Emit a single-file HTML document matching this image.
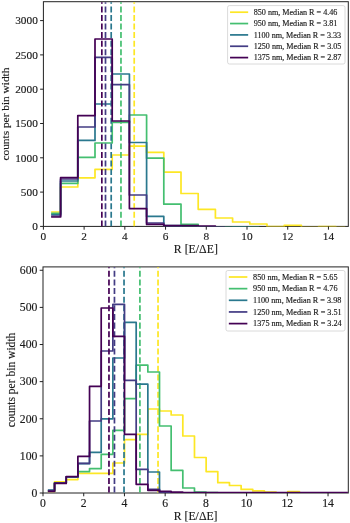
<!DOCTYPE html>
<html lang="en">
<head>
<meta charset="utf-8">
<title>R histograms</title>
<style>
html,body{margin:0;padding:0;background:#fff;}
body{width:350px;height:523px;overflow:hidden;}
svg{display:block;font-family:"Liberation Serif","DejaVu Serif",serif;}
text{stroke:#1a1a1a;stroke-width:0.15px;}
</style>
</head>
<body>
<svg width="350" height="523" viewBox="0 0 350 523">
<rect x="0" y="0" width="350" height="523" fill="#fff"/>
<g>
<clipPath id="c1"><rect x="43.85" y="2.15" width="304.00" height="224.25"/></clipPath>
<rect x="43.40" y="1.70" width="304.90" height="224.70" fill="none" stroke="#222" stroke-width="1"/>
<g clip-path="url(#c1)" fill="none" stroke-width="1.72">
<path d="M52.00 212.00 L60.60 212.00 L60.60 187.00 L77.80 187.00 L77.80 177.80 L95.00 177.80 L95.00 169.40 L112.20 169.40 L112.20 155.00 L129.40 155.00 L129.40 146.20 L146.60 146.20 L146.60 152.40 L163.80 152.40 L163.80 172.20 L181.00 172.20 L181.00 193.50 L198.20 193.50 L198.20 209.30 L215.40 209.30 L215.40 218.00 L232.60 218.00 L232.60 222.00 L249.80 222.00 L249.80 224.00 L267.00 224.00 L267.00 226.60 L284.20 226.60 L284.20 225.40 L301.40 225.40 L301.40 227.30 L318.60 227.30 L318.60 226.60 L335.80 226.60 L335.80 227.30 L344.40 227.30" stroke="#fde725" stroke-linejoin="round" stroke-linecap="square"/>
<path d="M134.21 226.40 V1.70" stroke="#fde725" stroke-dasharray="5.98 2.58"/>
<path d="M52.00 213.40 L60.60 213.40 L60.60 183.40 L77.80 183.40 L77.80 157.40 L95.00 157.40 L95.00 143.00 L112.20 143.00 L112.20 122.40 L129.40 122.40 L129.40 115.00 L146.60 115.00 L146.60 158.20 L163.80 158.20 L163.80 204.20 L181.00 204.20 L181.00 224.30 L198.20 224.30 L198.20 227.30 L215.40 227.30 L215.40 227.40 L232.60 227.40 L232.60 227.40 L249.80 227.40 L249.80 227.40 L258.40 227.40" stroke="#44bf70" stroke-linejoin="round" stroke-linecap="square"/>
<path d="M120.97 226.40 V1.70" stroke="#44bf70" stroke-dasharray="5.98 2.58"/>
<path d="M52.00 214.50 L60.60 214.50 L60.60 181.00 L77.80 181.00 L77.80 140.40 L95.00 140.40 L95.00 104.00 L112.20 104.00 L112.20 74.00 L129.40 74.00 L129.40 142.50 L146.60 142.50 L146.60 216.40 L163.80 216.40 L163.80 225.60 L181.00 225.60 L181.00 227.30 L198.20 227.30 L198.20 227.30 L215.40 227.30 L215.40 227.30 L232.60 227.30 L232.60 226.80 L249.80 226.80 L249.80 227.40 L258.40 227.40" stroke="#2a788e" stroke-linejoin="round" stroke-linecap="square"/>
<path d="M111.20 226.40 V1.70" stroke="#2a788e" stroke-dasharray="5.98 2.58"/>
<path d="M52.00 216.00 L60.60 216.00 L60.60 179.00 L77.80 179.00 L77.80 127.00 L95.00 127.00 L95.00 57.40 L112.20 57.40 L112.20 84.70 L129.40 84.70 L129.40 195.00 L146.60 195.00 L146.60 223.00 L163.80 223.00 L163.80 225.80 L181.00 225.80 L181.00 227.30 L198.20 227.30 L198.20 227.30 L215.40 227.30 L215.40 227.30 L224.00 227.30" stroke="#433c84" stroke-linejoin="round" stroke-linecap="square"/>
<path d="M105.50 226.40 V1.70" stroke="#433c84" stroke-dasharray="5.98 2.58"/>
<path d="M52.00 217.00 L60.60 217.00 L60.60 177.60 L77.80 177.60 L77.80 115.60 L95.00 115.60 L95.00 39.00 L112.20 39.00 L112.20 121.00 L129.40 121.00 L129.40 208.60 L146.60 208.60 L146.60 224.40 L163.80 224.40 L163.80 225.60 L181.00 225.60 L181.00 225.70 L198.20 225.70 L198.20 226.20 L215.40 226.20 L215.40 227.40 L224.00 227.40" stroke="#440154" stroke-linejoin="round" stroke-linecap="square"/>
<path d="M101.83 226.40 V1.70" stroke="#440154" stroke-dasharray="5.98 2.58"/>
</g>
<path d="M43.40 226.40 v3.3 M84.12 226.40 v3.3 M124.84 226.40 v3.3 M165.56 226.40 v3.3 M206.28 226.40 v3.3 M247.00 226.40 v3.3 M287.72 226.40 v3.3 M328.44 226.40 v3.3 M43.40 226.40 h-3.3 M43.40 192.10 h-3.3 M43.40 157.80 h-3.3 M43.40 123.50 h-3.3 M43.40 89.20 h-3.3 M43.40 54.90 h-3.3 M43.40 20.60 h-3.3" stroke="#222" stroke-width="1" fill="none"/>
<g font-size="11.30" fill="#1a1a1a">
<text x="43.40" y="240.00" text-anchor="middle">0</text>
<text x="84.12" y="240.00" text-anchor="middle">2</text>
<text x="124.84" y="240.00" text-anchor="middle">4</text>
<text x="165.56" y="240.00" text-anchor="middle">6</text>
<text x="206.28" y="240.00" text-anchor="middle">8</text>
<text x="247.00" y="240.00" text-anchor="middle">10</text>
<text x="287.72" y="240.00" text-anchor="middle">12</text>
<text x="328.44" y="240.00" text-anchor="middle">14</text>
<text x="37.80" y="230.20" text-anchor="end">0</text>
<text x="37.80" y="195.90" text-anchor="end">500</text>
<text x="37.80" y="161.60" text-anchor="end">1000</text>
<text x="37.80" y="127.30" text-anchor="end">1500</text>
<text x="37.80" y="93.00" text-anchor="end">2000</text>
<text x="37.80" y="58.70" text-anchor="end">2500</text>
<text x="37.80" y="24.40" text-anchor="end">3000</text>
</g>
<text x="195.85" y="253.10" text-anchor="middle" font-size="11.80" fill="#1a1a1a">R [E/ΔE]</text>
<text transform="translate(9.30 114.05) rotate(-90)" text-anchor="middle" font-size="11.35" fill="#1a1a1a">counts per bin width</text>
<rect x="227.60" y="5.60" width="117.40" height="58.40" rx="1.8" fill="#fff" fill-opacity="0.8" stroke="#ccc" stroke-opacity="0.8" stroke-width="0.9"/>
<path d="M230.90 12.20 H247.30" stroke="#fde725" stroke-width="1.72" stroke-linecap="square" fill="none"/>
<text x="253.70" y="14.88" font-size="8.12" fill="#1a1a1a">850 nm, Median R = 4.46</text>
<path d="M230.90 23.55 H247.30" stroke="#44bf70" stroke-width="1.72" stroke-linecap="square" fill="none"/>
<text x="253.70" y="26.23" font-size="8.12" fill="#1a1a1a">950 nm, Median R = 3.81</text>
<path d="M230.90 34.90 H247.30" stroke="#2a788e" stroke-width="1.72" stroke-linecap="square" fill="none"/>
<text x="253.70" y="37.58" font-size="8.12" fill="#1a1a1a">1100 nm, Median R = 3.33</text>
<path d="M230.90 46.25 H247.30" stroke="#433c84" stroke-width="1.72" stroke-linecap="square" fill="none"/>
<text x="253.70" y="48.93" font-size="8.12" fill="#1a1a1a">1250 nm, Median R = 3.05</text>
<path d="M230.90 57.60 H247.30" stroke="#440154" stroke-width="1.72" stroke-linecap="square" fill="none"/>
<text x="253.70" y="60.28" font-size="8.12" fill="#1a1a1a">1375 nm, Median R = 2.87</text>
</g>
<g>
<clipPath id="c266"><rect x="43.45" y="267.35" width="304.40" height="225.65"/></clipPath>
<rect x="43.00" y="266.90" width="305.30" height="226.10" fill="none" stroke="#222" stroke-width="1"/>
<g clip-path="url(#c266)" fill="none" stroke-width="1.72">
<path d="M48.73 491.50 L54.56 491.50 L54.56 481.80 L66.22 481.80 L66.22 479.60 L77.88 479.60 L77.88 473.40 L89.54 473.40 L89.54 473.40 L101.20 473.40 L101.20 473.40 L112.86 473.40 L112.86 463.00 L124.52 463.00 L124.52 439.60 L136.18 439.60 L136.18 434.40 L147.84 434.40 L147.84 409.00 L159.50 409.00 L159.50 411.00 L171.16 411.00 L171.16 415.00 L182.82 415.00 L182.82 436.00 L194.48 436.00 L194.48 457.50 L206.14 457.50 L206.14 471.60 L217.80 471.60 L217.80 482.70 L229.46 482.70 L229.46 485.50 L241.12 485.50 L241.12 489.40 L252.78 489.40 L252.78 490.90 L264.44 490.90 L264.44 492.20 L276.10 492.20 L276.10 492.80 L287.76 492.80 L287.76 491.60 L299.42 491.60 L299.42 492.80 L311.08 492.80 L311.08 492.80 L322.74 492.80 L322.74 492.80 L334.40 492.80 L334.40 492.80 L340.23 492.80" stroke="#fde725" stroke-linejoin="round" stroke-linecap="square"/>
<path d="M158.03 492.60 V266.90" stroke="#fde725" stroke-dasharray="6.02 2.61"/>
<path d="M48.73 491.20 L54.56 491.20 L54.56 482.80 L66.22 482.80 L66.22 477.20 L77.88 477.20 L77.88 471.60 L89.54 471.60 L89.54 468.60 L101.20 468.60 L101.20 454.30 L112.86 454.30 L112.86 430.40 L124.52 430.40 L124.52 398.60 L136.18 398.60 L136.18 365.20 L147.84 365.20 L147.84 372.00 L159.50 372.00 L159.50 426.00 L171.16 426.00 L171.16 470.40 L182.82 470.40 L182.82 488.00 L194.48 488.00 L194.48 492.00 L206.14 492.00 L206.14 492.60 L217.80 492.60 L217.80 492.80 L229.46 492.80 L229.46 493.00 L241.12 493.00 L241.12 493.00 L252.78 493.00 L252.78 493.00 L264.44 493.00 L264.44 493.00 L276.10 493.00 L276.10 493.00 L287.76 493.00 L287.76 493.00 L299.42 493.00 L299.42 493.00 L311.08 493.00 L311.08 493.00 L322.74 493.00 L322.74 493.00 L334.40 493.00 L334.40 493.00 L340.23 493.00" stroke="#44bf70" stroke-linejoin="round" stroke-linecap="square"/>
<path d="M139.91 492.60 V266.90" stroke="#44bf70" stroke-dasharray="6.02 2.61"/>
<path d="M48.73 490.10 L54.56 490.10 L54.56 483.00 L66.22 483.00 L66.22 477.00 L77.88 477.00 L77.88 463.60 L89.54 463.60 L89.54 452.40 L101.20 452.40 L101.20 418.80 L112.86 418.80 L112.86 358.00 L124.52 358.00 L124.52 322.40 L136.18 322.40 L136.18 384.20 L147.84 384.20 L147.84 472.00 L159.50 472.00 L159.50 492.00 L171.16 492.00 L171.16 492.80 L182.82 492.80 L182.82 493.00 L194.48 493.00 L194.48 493.00 L206.14 493.00 L206.14 493.00 L217.80 493.00 L217.80 493.00 L229.46 493.00 L229.46 493.00 L241.12 493.00 L241.12 493.00 L252.78 493.00 L252.78 493.00 L264.44 493.00 L264.44 493.00 L276.10 493.00 L276.10 493.00 L287.76 493.00 L287.76 493.00 L299.42 493.00 L299.42 493.00 L311.08 493.00 L311.08 493.00 L322.74 493.00 L322.74 493.00 L334.40 493.00 L334.40 493.00 L340.23 493.00" stroke="#2a788e" stroke-linejoin="round" stroke-linecap="square"/>
<path d="M124.03 492.60 V266.90" stroke="#2a788e" stroke-dasharray="6.02 2.61"/>
<path d="M48.73 490.60 L54.56 490.60 L54.56 483.20 L66.22 483.20 L66.22 476.80 L77.88 476.80 L77.88 463.40 L89.54 463.40 L89.54 421.00 L101.20 421.00 L101.20 351.00 L112.86 351.00 L112.86 304.40 L124.52 304.40 L124.52 380.40 L136.18 380.40 L136.18 469.40 L147.84 469.40 L147.84 489.30 L159.50 489.30 L159.50 492.30 L171.16 492.30 L171.16 493.00 L182.82 493.00 L182.82 493.00 L194.48 493.00 L194.48 493.00 L206.14 493.00 L206.14 493.00 L217.80 493.00 L217.80 493.00 L229.46 493.00 L229.46 493.00 L241.12 493.00 L241.12 493.00 L252.78 493.00 L252.78 493.00 L264.44 493.00 L264.44 493.00 L276.10 493.00 L276.10 493.00 L287.76 493.00 L287.76 493.00 L299.42 493.00 L299.42 493.00 L311.08 493.00 L311.08 493.00 L322.74 493.00 L322.74 493.00 L334.40 493.00 L334.40 493.00 L340.23 493.00" stroke="#433c84" stroke-linejoin="round" stroke-linecap="square"/>
<path d="M114.46 492.60 V266.90" stroke="#433c84" stroke-dasharray="6.02 2.61"/>
<path d="M48.73 491.40 L54.56 491.40 L54.56 483.40 L66.22 483.40 L66.22 476.50 L77.88 476.50 L77.88 456.40 L89.54 456.40 L89.54 386.40 L101.20 386.40 L101.20 308.00 L112.86 308.00 L112.86 336.40 L124.52 336.40 L124.52 434.40 L136.18 434.40 L136.18 484.30 L147.84 484.30 L147.84 490.30 L159.50 490.30 L159.50 491.40 L171.16 491.40 L171.16 492.20 L182.82 492.20 L182.82 492.60 L194.48 492.60 L194.48 492.60 L206.14 492.60 L206.14 492.60 L217.80 492.60 L217.80 492.60 L229.46 492.60 L229.46 492.60 L241.12 492.60 L241.12 492.60 L252.78 492.60 L252.78 492.60 L264.44 492.60 L264.44 492.60 L276.10 492.60 L276.10 492.60 L287.76 492.60 L287.76 492.60 L299.42 492.60 L299.42 492.60 L311.08 492.60 L311.08 492.60 L322.74 492.60 L322.74 492.60 L334.40 492.60 L334.40 492.60 L346.06 492.60 L346.06 492.60 L351.89 492.60" stroke="#440154" stroke-linejoin="round" stroke-linecap="square"/>
<path d="M108.97 492.60 V266.90" stroke="#440154" stroke-dasharray="6.02 2.61"/>
</g>
<path d="M43.00 493.00 v3.3 M83.72 493.00 v3.3 M124.44 493.00 v3.3 M165.16 493.00 v3.3 M205.88 493.00 v3.3 M246.60 493.00 v3.3 M287.32 493.00 v3.3 M328.04 493.00 v3.3 M43.00 493.00 h-3.3 M43.00 455.88 h-3.3 M43.00 418.76 h-3.3 M43.00 381.64 h-3.3 M43.00 344.52 h-3.3 M43.00 307.40 h-3.3 M43.00 270.28 h-3.3" stroke="#222" stroke-width="1" fill="none"/>
<g font-size="11.70" fill="#1a1a1a">
<text x="43.00" y="506.60" text-anchor="middle">0</text>
<text x="83.72" y="506.60" text-anchor="middle">2</text>
<text x="124.44" y="506.60" text-anchor="middle">4</text>
<text x="165.16" y="506.60" text-anchor="middle">6</text>
<text x="205.88" y="506.60" text-anchor="middle">8</text>
<text x="246.60" y="506.60" text-anchor="middle">10</text>
<text x="287.32" y="506.60" text-anchor="middle">12</text>
<text x="328.04" y="506.60" text-anchor="middle">14</text>
<text x="37.40" y="496.80" text-anchor="end">0</text>
<text x="37.40" y="459.68" text-anchor="end">100</text>
<text x="37.40" y="422.56" text-anchor="end">200</text>
<text x="37.40" y="385.44" text-anchor="end">300</text>
<text x="37.40" y="348.32" text-anchor="end">400</text>
<text x="37.40" y="311.20" text-anchor="end">500</text>
<text x="37.40" y="274.08" text-anchor="end">600</text>
</g>
<text x="195.65" y="519.70" text-anchor="middle" font-size="11.75" fill="#1a1a1a">R [E/ΔE]</text>
<text transform="translate(14.50 379.95) rotate(-90)" text-anchor="middle" font-size="11.55" fill="#1a1a1a">counts per bin width</text>
<rect x="226.00" y="270.50" width="119.00" height="60.50" rx="1.8" fill="#fff" fill-opacity="0.8" stroke="#ccc" stroke-opacity="0.8" stroke-width="0.9"/>
<path d="M229.70 277.00 H246.50" stroke="#fde725" stroke-width="1.72" stroke-linecap="square" fill="none"/>
<text x="253.10" y="279.71" font-size="8.20" fill="#1a1a1a">850 nm, Median R = 5.65</text>
<path d="M229.70 288.65 H246.50" stroke="#44bf70" stroke-width="1.72" stroke-linecap="square" fill="none"/>
<text x="253.10" y="291.36" font-size="8.20" fill="#1a1a1a">950 nm, Median R = 4.76</text>
<path d="M229.70 300.30 H246.50" stroke="#2a788e" stroke-width="1.72" stroke-linecap="square" fill="none"/>
<text x="253.10" y="303.01" font-size="8.20" fill="#1a1a1a">1100 nm, Median R = 3.98</text>
<path d="M229.70 311.95 H246.50" stroke="#433c84" stroke-width="1.72" stroke-linecap="square" fill="none"/>
<text x="253.10" y="314.66" font-size="8.20" fill="#1a1a1a">1250 nm, Median R = 3.51</text>
<path d="M229.70 323.60 H246.50" stroke="#440154" stroke-width="1.72" stroke-linecap="square" fill="none"/>
<text x="253.10" y="326.31" font-size="8.20" fill="#1a1a1a">1375 nm, Median R = 3.24</text>
</g>
</svg>
</body>
</html>
